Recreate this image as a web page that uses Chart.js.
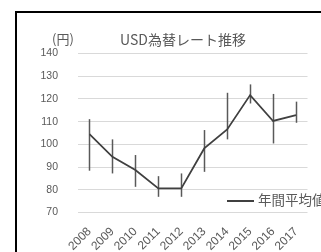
<!DOCTYPE html>
<html lang="ja">
<head>
<meta charset="utf-8">
<script src="https://cdn.jsdelivr.net/npm/chart.js@4"></script>
<style>
    html, body { margin: 0; padding: 0; background: #fff; }
    #wrap { position: relative; width: 321px; height: 252px; overflow: hidden; }
    #frame {
        position: absolute; left: 15px; top: 11px; width: 400px; height: 300px;
        border-left: 2px solid #000; border-top: 2px solid #000; pointer-events: none;
    }
    canvas { position: absolute; left: 0; top: 0; }
    .txt { position: absolute; color: #595959; white-space: nowrap; font-family: "Noto Sans CJK JP", sans-serif; }
    #unit { left: 52px; top: 30px; font-size: 13px; line-height: 18px; }
    #title { left: 120px; top: 29px; font-size: 14px; line-height: 20px; }
    #legend { left: 227px; top: 190px; font-size: 13.5px; line-height: 18px; }
    #legend .swatch { display: inline-block; width: 27px; height: 2px; background: #404040; vertical-align: middle; margin-right: 4px; }
</style>
</head>
<body>
<div id="wrap">
    <canvas id="chart" width="321" height="252"></canvas>
    <div id="frame"></div>
    <div class="txt" id="unit">(円)</div>
    <div class="txt" id="title">USD為替レート推移</div>
    <div class="txt" id="legend"><span class="swatch"></span>年間平均値</div>
</div>
<script>
    // ============================================
    // Data
    // ============================================

    const years = ['2008', '2009', '2010', '2011', '2012', '2013', '2014', '2015', '2016', '2017'];
    const avgRate = [104.5, 94.5, 88.7, 80.6, 80.6, 98.2, 106.6, 121.7, 110.3, 112.9];
    const highRate = [111.1, 102.2, 95.3, 86.0, 87.2, 106.3, 122.7, 126.4, 122.2, 118.8];
    const lowRate = [88.4, 87.2, 81.3, 76.9, 76.9, 87.9, 102.2, 118.0, 100.4, 109.5];
    const yTicks = [70, 80, 90, 100, 110, 120, 130, 140];

    const gray = '#595959';

    // high-low range bars, drawn under the line
    const rangeBars = {
        id: 'rangeBars',
        beforeDatasetsDraw(chart) {
            const { ctx, scales: { x, y } } = chart;
            ctx.save();
            ctx.strokeStyle = gray;
            ctx.lineWidth = 1.5;
            years.forEach((yr, i) => {
                const px = Math.round(x.getPixelForValue(i)) + 0.5;
                ctx.beginPath();
                ctx.moveTo(px, y.getPixelForValue(highRate[i]));
                ctx.lineTo(px, y.getPixelForValue(lowRate[i]));
                ctx.stroke();
            });
            ctx.restore();
        }
    };

    new Chart(document.getElementById('chart'), {
        type: 'line',
        data: {
            labels: years,
            datasets: [{
                label: '年間平均値',
                data: avgRate,
                borderColor: '#404040',
                borderWidth: 1.75,
                pointRadius: 0,
                tension: 0
            }]
        },
        options: {
            responsive: false,
            animation: false,
            layout: { padding: { top: 53.5, right: 13.5, bottom: 0, left: 0 } },
            plugins: {
                legend: { display: false },
                title: { display: false },
                tooltip: { enabled: false }
            },
            scales: {
                x: {
                    offset: true,
                    grid: { display: false },
                    border: { display: false },
                    ticks: {
                        color: gray,
                        font: { family: 'Liberation Sans', size: 12 },
                        minRotation: 45,
                        maxRotation: 45,
                        autoSkip: false,
                        padding: 4
                    },
                    afterFit(scale) { scale.height = 39.5; }
                },
                y: {
                    min: 70,
                    max: 140,
                    afterBuildTicks(scale) { scale.ticks = yTicks.map(v => ({ value: v })); },
                    grid: { color: '#d9d9d9', lineWidth: 1, drawTicks: false },
                    border: { display: false },
                    ticks: {
                        color: gray,
                        font: { family: 'Liberation Sans', size: 10.5 },
                        padding: 20
                    },
                    afterFit(scale) { scale.width = 78; }
                }
            }
        },
        plugins: [rangeBars]
    });
</script>
</body>
</html>
